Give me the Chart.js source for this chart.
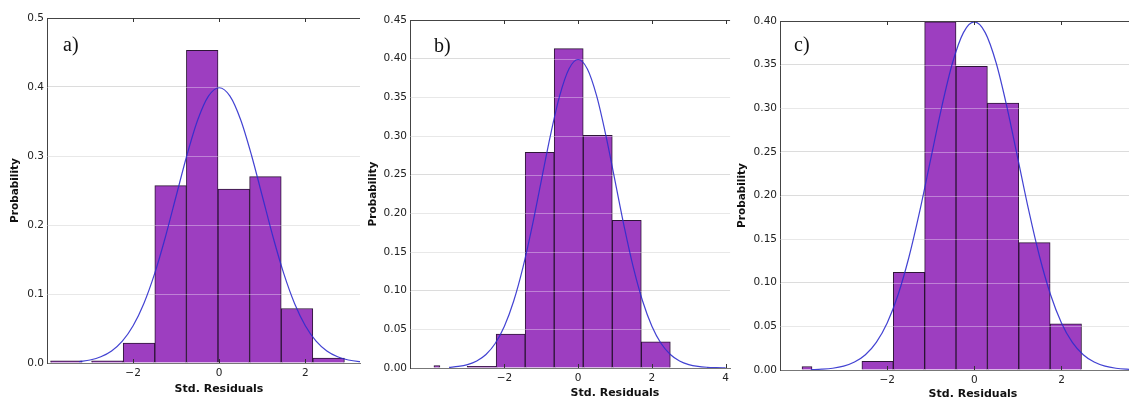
<!DOCTYPE html>
<html><head><meta charset="utf-8">
<script src="https://cdn.jsdelivr.net/npm/chart.js@4.4.1/dist/chart.umd.min.js"></script>
<style>
html,body{margin:0;padding:0;background:#fff}
body{width:1129px;height:399px;overflow:hidden;position:relative;font-family:"DejaVu Sans",sans-serif}
.panel{position:absolute;top:0;height:399px}
.xt{position:absolute;font:bold 11px "DejaVu Sans",sans-serif;color:#111;transform:translate(-50%,-50%);white-space:nowrap}
.lbl{position:absolute;font:20px "Liberation Serif",serif;line-height:20px;color:#111}
</style></head><body>
<div class="panel" style="left:0;width:364px"><canvas id="ca" width="364" height="399"></canvas></div>
<div class="panel" style="left:364px;width:369px"><canvas id="cb" width="369" height="399"></canvas></div>
<div class="panel" style="left:733px;width:396px"><canvas id="cc" width="396" height="399"></canvas></div>
<div class="lbl" style="left:63px;top:34px">a)</div>
<div class="lbl" style="left:434px;top:35px">b)</div>
<div class="lbl" style="left:794px;top:34px">c)</div>
<div class="xt" style="left:219px;top:388px">Std. Residuals</div>
<div class="xt" style="left:615px;top:392px">Std. Residuals</div>
<div class="xt" style="left:973px;top:393px">Std. Residuals</div>
<script>
// ---- data ----
const xTicksA = [-2, 0, 2];
const binCentersA = [-3.55, -2.597, -1.863, -1.129, -0.395, 0.339, 1.073, 1.807, 2.541];
const probA = [0.003, 0.003, 0.029, 0.257, 0.453, 0.252, 0.270, 0.079, 0.007];
const outlierXA = [];
const outlierYA = [];
const curveFromA = -3.25;

const xTicksB = [-2, 0, 2, 4];
const binCentersB = [-2.617, -1.830, -1.043, -0.256, 0.532, 1.319, 2.106];
const probB = [0.002, 0.044, 0.279, 0.413, 0.301, 0.191, 0.034];
const outlierXB = [-3.83];
const outlierYB = [0.003];
const curveFromB = -3.5;

const xTicksC = [-2, 0, 2];
const binCentersC = [-2.22, -1.50, -0.78, -0.06, 0.66, 1.38, 2.10];
const probC = [0.010, 0.112, 0.399, 0.348, 0.306, 0.146, 0.053];
const outlierXC = [-3.84];
const outlierYC = [0.004];
const curveFromC = -3.75;

// fitted normal curve as drawn
const curveX = [-4, -3.75, -3.5, -3.25, -3, -2.75, -2.5, -2.25, -2, -1.75, -1.5, -1.25, -1, -0.75, -0.5, -0.25, 0,
                0.25, 0.5, 0.75, 1, 1.25, 1.5, 1.75, 2, 2.25, 2.5, 2.75, 3, 3.25, 3.5, 3.75, 4];
const curveY = [0.0001, 0.0004, 0.0009, 0.0020, 0.0044, 0.0091, 0.0175, 0.0317, 0.0540, 0.0863, 0.1295, 0.1826, 0.2420, 0.3011, 0.3521, 0.3867, 0.3989,
                0.3867, 0.3521, 0.3011, 0.2420, 0.1826, 0.1295, 0.0863, 0.0540, 0.0317, 0.0175, 0.0091, 0.0044, 0.0020, 0.0009, 0.0004, 0.0001];

// ---- styling / layout ----
const BAR_FILL = 'rgb(157,62,192)';
const BAR_EDGE = 'rgba(35,10,45,0.95)';
const CURVE = 'rgba(45,45,205,0.9)';

const framePlugin = {
  id: 'frame',
  afterDatasetDraw(chart, args) {
    if (args.index !== 0) return;
    const {ctx, chartArea: a} = chart;
    const ys = chart.scales.y;
    ctx.save();
    ctx.strokeStyle = 'rgba(255,255,255,0.35)';
    ctx.lineWidth = 1;
    ys.ticks.forEach(t => {
      if (t.value <= ys.min || t.value >= ys.max) return;
      const y = Math.round(ys.getPixelForValue(t.value)) + 0.5;
      ctx.beginPath(); ctx.moveTo(a.left, y); ctx.lineTo(a.right, y); ctx.stroke();
    });
    ctx.restore();
  },
  afterDraw(chart) {
    const {ctx, chartArea: a} = chart;
    const xs = chart.scales.x;
    ctx.save();
    ctx.strokeStyle = '#444';
    ctx.lineWidth = 1;
    const top = Math.round(a.top) + 0.5;
    ctx.beginPath(); ctx.moveTo(a.left, top); ctx.lineTo(a.right, top); ctx.stroke();
    ctx.strokeStyle = '#333';
    xs.ticks.forEach(t => {
      const x = Math.round(xs.getPixelForValue(t.value)) + 0.5;
      ctx.beginPath(); ctx.moveTo(x, a.top); ctx.lineTo(x, a.top + 4); ctx.stroke();
      ctx.beginPath(); ctx.moveTo(x, a.bottom); ctx.lineTo(x, a.bottom - 4); ctx.stroke();
    });
    ctx.restore();
  }
};

function makePanel(id, p) {
  const curvePts = curveX.map((x, i) => ({x: x, y: curveY[i]})).filter(pt => pt.x >= p.curveFrom);
  const datasets = [
    {
      type: 'bar',
      data: p.centers.map((x, i) => ({x: x, y: p.values[i]})),
      backgroundColor: BAR_FILL, borderColor: BAR_EDGE, borderWidth: 1,
      barPercentage: 1, categoryPercentage: 1, grouped: false, order: 2
    },
    {
      type: 'bar',
      data: p.outX.map((x, i) => ({x: x, y: p.outY[i]})),
      backgroundColor: BAR_FILL, borderColor: BAR_EDGE, borderWidth: 1,
      barThickness: p.outW, grouped: false, order: 1
    },
    {
      type: 'line',
      data: curvePts,
      borderColor: CURVE, borderWidth: 1.2, pointRadius: 0, fill: false,
      cubicInterpolationMode: 'monotone', order: 0
    }
  ];
  new Chart(document.getElementById(id), {
    type: 'bar',
    data: {datasets: datasets},
    plugins: [framePlugin],
    options: {
      responsive: false, animation: false, devicePixelRatio: 1,
      layout: {padding: {left: 0, right: p.padR, top: p.padT, bottom: 0}},
      plugins: {legend: {display: false}, tooltip: {enabled: false}},
      scales: {
        x: {
          type: 'linear', min: p.xmin, max: p.xmax, offset: false,
          afterBuildTicks: s => { s.ticks = p.xticks.map(v => ({value: v})); },
          afterFit: s => { s.height = p.xH; },
          grid: {display: false, drawTicks: false},
          border: {display: true, color: '#777', width: 1},
          ticks: {
            color: '#222', padding: 4, maxRotation: 0, autoSkip: false,
            font: {family: 'DejaVu Sans', size: p.tickSize},
            callback: v => String(v).replace('-', '\u2212')
          }
        },
        y: {
          min: 0, max: p.ymax,
          afterFit: s => { s.width = p.yW; },
          grid: {color: '#dcdcdc', lineWidth: 1, drawTicks: false},
          border: {display: true, color: '#444', width: 1},
          ticks: {
            stepSize: p.ystep, color: '#222', padding: 3,
            font: {family: 'DejaVu Sans', size: p.tickSize},
            callback: v => Number(v).toFixed(p.ydec)
          },
          title: {
            display: true, text: 'Probability', color: '#111',
            font: {family: 'DejaVu Sans', size: 10.5, weight: 'bold'},
            padding: {top: p.titlePad, bottom: 0}
          }
        }
      }
    }
  });
}

makePanel('ca', {centers: binCentersA, values: probA, outX: outlierXA, outY: outlierYA, outW: 6, curveFrom: curveFromA,
  xticks: xTicksA, xmin: -4.0, xmax: 3.27, ymax: 0.5, ystep: 0.1, ydec: 1,
  padR: 4, padT: 18, xH: 36, yW: 47, tickSize: 10.5, titlePad: 8.7});
makePanel('cb', {centers: binCentersB, values: probB, outX: outlierXB, outY: outlierYB, outW: 6, curveFrom: curveFromB,
  xticks: xTicksB, xmin: -4.56, xmax: 4.12, ymax: 0.45, ystep: 0.05, ydec: 2,
  padR: 1.3, padT: 20, xH: 31, yW: 46, tickSize: 10.5, titlePad: 2.7});
makePanel('cc', {centers: binCentersC, values: probC, outX: outlierXC, outY: outlierYC, outW: 10, curveFrom: curveFromC,
  xticks: xTicksC, xmin: -4.46, xmax: 3.55, ymax: 0.40, ystep: 0.05, ydec: 2,
  padR: 0, padT: 21, xH: 29, yW: 47, tickSize: 10.5, titlePad: 3.4});
</script>
</body></html>
